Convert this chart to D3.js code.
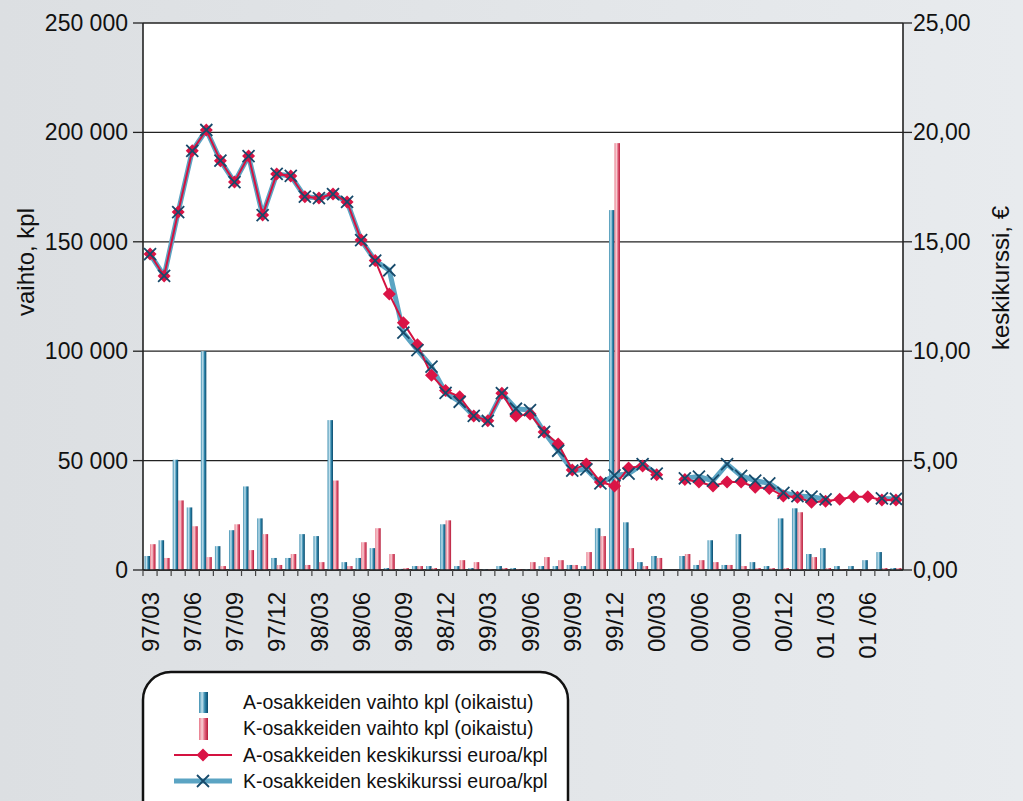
<!DOCTYPE html>
<html>
<head>
<meta charset="utf-8">
<script src="https://cdnjs.cloudflare.com/ajax/libs/d3/7.8.5/d3.min.js"></script>
<style>
  body { margin: 0; }
  svg { display: block; font-family: "Liberation Sans", Arial, sans-serif; }
</style>
</head>
<body>
<svg id="chart" width="1023" height="801"></svg>
<script>
var months = ["97/03","97/04","97/05","97/06","97/07","97/08","97/09","97/10","97/11","97/12",
  "98/01","98/02","98/03","98/04","98/05","98/06","98/07","98/08","98/09","98/10","98/11","98/12",
  "99/01","99/02","99/03","99/04","99/05","99/06","99/07","99/08","99/09","99/10","99/11","99/12",
  "00/01","00/02","00/03","00/04","00/05","00/06","00/07","00/08","00/09","00/10","00/11","00/12",
  "01/01","01/02","01/03","01/04","01/05","01/06","01/07","01/08"];

var tickLabels = ["97/03","97/06","97/09","97/12","98/03","98/06","98/09","98/12","99/03","99/06",
  "99/09","99/12","00/03","00/06","00/09","00/12","01 /03","01 /06"];

// A-osakkeiden vaihto kpl
var aVolume = [6400,13600,50400,28600,100000,10900,18200,38200,23600,5500,
  5500,16400,15500,68500,3600,5500,10000,900,500,1800,1800,20900,
  1800,900,300,1800,900,300,1800,1800,2300,1800,19100,164500,
  21800,3600,6400,0,6400,2300,13600,2300,16400,3600,1800,23600,
  28200,7300,10000,1800,1800,4500,8200,900];

// K-osakkeiden vaihto kpl
var kVolume = [11800,5500,31800,20000,5900,1800,20900,9100,16400,2300,
  7300,2300,3600,40900,1800,12700,19100,7300,900,1800,900,22700,
  4500,3600,300,900,450,3600,5900,4500,2300,8200,15500,195100,
  10000,1800,5500,0,7300,4500,3600,2300,1800,900,900,900,
  26400,5900,900,300,300,300,900,900];

// keskikurssi euroa/kpl
var aPrice = [14.44,13.44,16.36,19.16,20.11,18.71,17.73,18.92,16.22,18.10,
  18.01,17.06,17.00,17.18,16.82,15.08,14.14,12.61,11.30,10.30,8.90,8.20,
  7.92,7.04,6.82,8.08,7.04,7.13,6.31,5.76,4.57,4.84,4.02,3.84,
  4.66,4.75,4.35,null,4.14,4.02,3.84,4.02,4.02,3.78,3.73,3.38,
  3.32,3.10,3.14,3.23,3.35,3.35,3.20,3.20];

var kPrice = [14.44,13.44,16.36,19.16,20.11,18.71,17.73,18.92,16.22,18.10,
  18.01,17.06,17.00,17.18,16.82,15.08,14.14,13.70,10.85,10.05,9.29,8.10,
  7.69,7.04,6.82,8.08,7.37,7.31,6.31,5.45,4.54,4.60,3.96,4.32,
  4.40,4.84,4.40,null,4.19,4.27,4.08,4.84,4.30,4.08,3.96,3.53,
  3.38,3.35,3.23,null,null,null,3.27,3.25];

var volTicks = [0,50000,100000,150000,200000,250000];
var priceTicks = [0,5,10,15,20,25];

var svg = d3.select("#chart"),
    margin = {top: 23, right: 120, bottom: 231, left: 143},
    width = 1023 - margin.left - margin.right,
    height = 801 - margin.top - margin.bottom;

var defs = svg.append("defs");
var bg = defs.append("linearGradient").attr("id", "bg").attr("x1", 0).attr("x2", 1);
bg.append("stop").attr("offset", "0%").attr("stop-color", "#dcdfe2");
bg.append("stop").attr("offset", "100%").attr("stop-color", "#e8ebee");

var gA = defs.append("linearGradient").attr("id", "barA").attr("x1", 0).attr("x2", 1);
gA.append("stop").attr("offset", "0%").attr("stop-color", "#3d8eb0");
gA.append("stop").attr("offset", "35%").attr("stop-color", "#c4e2ee");
gA.append("stop").attr("offset", "65%").attr("stop-color", "#2f86ab");
gA.append("stop").attr("offset", "100%").attr("stop-color", "#0b4a6c");

var gK = defs.append("linearGradient").attr("id", "barK").attr("x1", 0).attr("x2", 1);
gK.append("stop").attr("offset", "0%").attr("stop-color", "#e8788a");
gK.append("stop").attr("offset", "35%").attr("stop-color", "#f8d2d6");
gK.append("stop").attr("offset", "65%").attr("stop-color", "#e0607a");
gK.append("stop").attr("offset", "100%").attr("stop-color", "#b51a38");

svg.append("rect").attr("width", 1023).attr("height", 801).attr("fill", "url(#bg)");

var g = svg.append("g").attr("transform", "translate(" + margin.left + "," + margin.top + ")");

g.append("rect").attr("width", width).attr("height", height).attr("fill", "#fff");

var x = d3.scaleBand().domain(months).range([0, width]).paddingInner(0.22).paddingOuter(0.11);
var xs = d3.scaleBand().domain(["A", "K"]).range([0, x.bandwidth()]);
var xc = function(m) { return x(m) + x.bandwidth() / 2; };
var step = x.step();

var yL = d3.scaleLinear().domain([0, 250000]).range([height, 0]);
var yR = d3.scaleLinear().domain([0, 25]).range([height, 0]);

// gridlines
g.append("g").selectAll("line").data(volTicks).enter().append("line")
    .attr("x1", 0).attr("x2", width)
    .attr("y1", function(d) { return yL(d); }).attr("y2", function(d) { return yL(d); })
    .attr("stroke", "#222").attr("stroke-width", 1.3);

// bars
var bar = g.append("g").selectAll("g").data(months).enter().append("g")
    .attr("transform", function(d) { return "translate(" + x(d) + ",0)"; });
bar.append("rect")
    .attr("x", xs("A")).attr("width", xs.bandwidth())
    .attr("y", function(d, i) { return yL(aVolume[i]); })
    .attr("height", function(d, i) { return height - yL(aVolume[i]); })
    .attr("fill", "url(#barA)");
bar.append("rect")
    .attr("x", xs("K")).attr("width", xs.bandwidth())
    .attr("y", function(d, i) { return yL(kVolume[i]); })
    .attr("height", function(d, i) { return height - yL(kVolume[i]); })
    .attr("fill", "url(#barK)");

// lines
var line = d3.line()
    .defined(function(d) { return d != null; })
    .x(function(d, i) { return xc(months[i]); })
    .y(function(d) { return yR(d); });

g.append("path").datum(kPrice).attr("d", line)
    .attr("fill", "none").attr("stroke", "#5ba4c3").attr("stroke-width", 5).attr("stroke-linejoin", "round");
g.append("path").datum(aPrice).attr("d", line)
    .attr("fill", "none").attr("stroke", "#d41240").attr("stroke-width", 2);

var diamond = "M0,-6.5L6.5,0L0,6.5L-6.5,0Z";
var cross = "M-6,-6L6,6M-6,6L6,-6";

g.append("g").selectAll("path").data(aPrice).enter().append("path")
    .attr("d", diamond)
    .attr("display", function(d) { return d == null ? "none" : null; })
    .attr("transform", function(d, i) { return "translate(" + xc(months[i]) + "," + yR(d || 0) + ")"; })
    .attr("fill", "#da1446");

g.append("g").selectAll("path").data(kPrice).enter().append("path")
    .attr("d", cross)
    .attr("display", function(d) { return d == null ? "none" : null; })
    .attr("transform", function(d, i) { return "translate(" + xc(months[i]) + "," + yR(d || 0) + ")"; })
    .attr("stroke", "#174a6b").attr("stroke-width", 1.8).attr("fill", "none");

// axes frame
g.append("line").attr("x1", 0).attr("x2", 0).attr("y1", 0).attr("y2", height).attr("stroke", "#222").attr("stroke-width", 1.6);
g.append("line").attr("x1", width).attr("x2", width).attr("y1", 0).attr("y2", height).attr("stroke", "#222").attr("stroke-width", 1.6);
g.append("line").attr("x1", 0).attr("x2", width).attr("y1", height).attr("y2", height).attr("stroke", "#222").attr("stroke-width", 1.6);

// left axis
var fmtL = function(d) { return d3.format(",")(d).replace(/,/g, " "); };
var left = g.append("g").selectAll("g").data(volTicks).enter().append("g")
    .attr("transform", function(d) { return "translate(0," + yL(d) + ")"; });
left.append("line").attr("x1", -10).attr("x2", 0).attr("stroke", "#222").attr("stroke-width", 1.3);
left.append("text").attr("x", -15).attr("dy", "0.35em").attr("text-anchor", "end")
    .attr("font-size", 23).attr("fill", "#111").text(fmtL);

// right axis
var fmtR = function(d) { return d3.format(".2f")(d).replace(".", ","); };
var right = g.append("g").selectAll("g").data(priceTicks).enter().append("g")
    .attr("transform", function(d) { return "translate(" + width + "," + yR(d) + ")"; });
right.append("line").attr("x1", 0).attr("x2", 9).attr("stroke", "#222").attr("stroke-width", 1.3);
right.append("text").attr("x", 10).attr("dy", "0.35em")
    .attr("font-size", 23).attr("fill", "#111").text(fmtR);

// x ticks at month boundaries
g.append("g").selectAll("line").data(months).enter().append("line")
    .attr("x1", function(d) { return x(d) - step * 0.11; })
    .attr("x2", function(d) { return x(d) - step * 0.11; })
    .attr("y1", height).attr("y2", height + 6)
    .attr("stroke", "#444").attr("stroke-width", 1.2);

// x labels, every third month
g.append("g").selectAll("text").data(tickLabels).enter().append("text")
    .attr("transform", function(d, i) { return "translate(" + xc(months[i * 3]) + "," + (height + 22) + ") rotate(-90)"; })
    .attr("dy", "0.36em").attr("text-anchor", "end")
    .attr("font-size", 24).attr("fill", "#111").text(function(d) { return d; });

// axis titles
svg.append("text").attr("transform", "translate(26,262) rotate(-90)")
    .attr("text-anchor", "middle").attr("dy", "0.35em").attr("font-size", 24).attr("fill", "#111")
    .text("vaihto, kpl");
svg.append("text").attr("transform", "translate(1001,278) rotate(-90)")
    .attr("text-anchor", "middle").attr("dy", "0.35em").attr("font-size", 24).attr("fill", "#111")
    .text("keskikurssi, \u20ac");

// legend
var lg = svg.append("g");
lg.append("rect").attr("x", 143).attr("y", 672).attr("width", 425).attr("height", 160).attr("rx", 28)
    .attr("fill", "#fff").attr("stroke", "#111").attr("stroke-width", 2.5);
var legendItems = ["A-osakkeiden vaihto kpl (oikaistu)", "K-osakkeiden vaihto kpl (oikaistu)",
  "A-osakkeiden keskikurssi euroa/kpl", "K-osakkeiden keskikurssi euroa/kpl"];
var ly = [702, 728, 755, 781];
lg.selectAll("text").data(legendItems).enter().append("text")
    .attr("x", 243).attr("y", function(d, i) { return ly[i]; }).attr("dy", "0.35em")
    .attr("font-size", 19.5).attr("fill", "#111").text(function(d) { return d; });
lg.append("rect").attr("x", 199).attr("y", 692).attr("width", 9).attr("height", 21).attr("fill", "url(#barA)");
lg.append("rect").attr("x", 199).attr("y", 718).attr("width", 9).attr("height", 22).attr("fill", "url(#barK)");
lg.append("line").attr("x1", 174).attr("x2", 232).attr("y1", 755).attr("y2", 755).attr("stroke", "#d41240").attr("stroke-width", 2);
lg.append("path").attr("d", diamond).attr("transform", "translate(203,755)").attr("fill", "#da1446");
lg.append("line").attr("x1", 174).attr("x2", 232).attr("y1", 781).attr("y2", 781).attr("stroke", "#5ba4c3").attr("stroke-width", 5);
lg.append("path").attr("d", cross).attr("transform", "translate(203,781)").attr("stroke", "#174a6b").attr("stroke-width", 1.8);
</script>
</body>
</html>
